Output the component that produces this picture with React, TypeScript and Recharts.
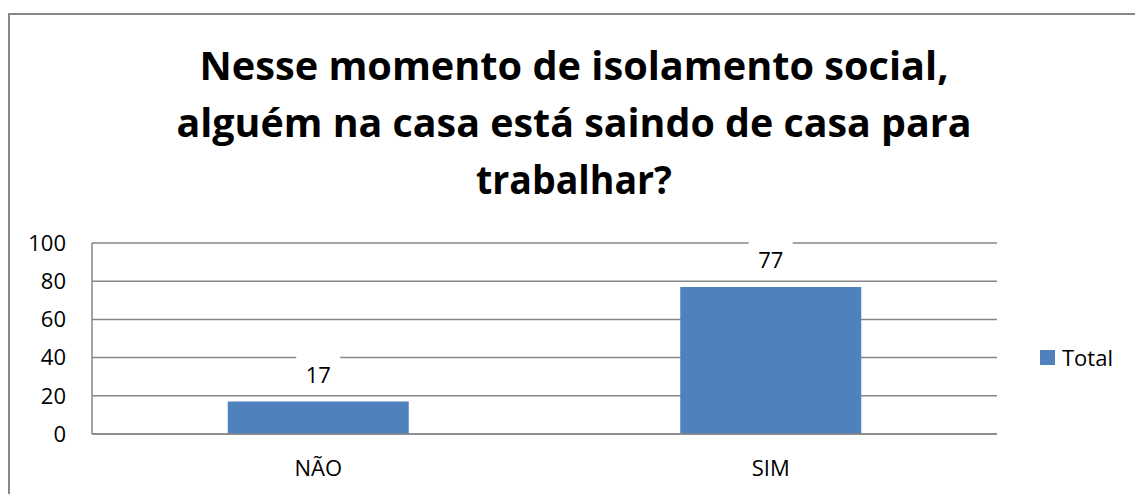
import { BarChart, Bar, XAxis, YAxis, CartesianGrid, LabelList } from 'recharts';

const categories = ['NÃO', 'SIM'];
const totals = [17, 77];
const yTicks = [0, 20, 40, 60, 80, 100];
const titleLines = [
  'Nesse momento de isolamento social,',
  'alguém na casa está saindo de casa para',
  'trabalhar?',
];
const titleWidths = [749, 795, 196];

const data = categories.map((name, i) => ({ name, Total: totals[i] }));

const FONT = '"Open Sans", Lato, sans-serif';
const BLUE = '#4F81BD';
const GRID = '#878787';

function ValueLabel(props: any) {
  const { x, y, width, value } = props;
  const cx = x + width / 2;
  return (
    <g>
      <rect x={cx - 22} y={y - 47} width={44} height={39} fill="#fff" />
      <text x={cx} y={y - 19} textAnchor="middle" fontSize={22} fontFamily={FONT} fill="#000">
        {value}
      </text>
    </g>
  );
}

export default function App() {
  return (
    <div style={{ position: 'absolute', left: 0, top: 0, width: 1135, height: 494, background: '#fff', overflow: 'hidden' }}>
      <div
        style={{
          position: 'absolute',
          left: 8,
          top: 13,
          width: 1160,
          height: 520,
          border: `2px solid ${GRID}`,
        }}
      />
      <svg width={1135} height={230} style={{ position: 'absolute', left: 0, top: 0 }}>
        {titleLines.map((line, i) => (
          <text
            key={i}
            x={574}
            y={80 + i * 57}
            textAnchor="middle"
            fontFamily={FONT}
            fontWeight={700}
            fontSize={39}
            textLength={titleWidths[i]}
            lengthAdjust="spacingAndGlyphs"
            fill="#000"
          >
            {line}
          </text>
        ))}
      </svg>
      <div style={{ position: 'absolute', left: 0, top: 0 }}>
        <BarChart
          width={1135}
          height={494}
          data={data}
          margin={{ top: 243, right: 138, bottom: 0, left: 0 }}
          barCategoryGap="30%"
        >
          <CartesianGrid vertical={false} stroke={GRID} strokeWidth={1.5} />
          <XAxis
            dataKey="name"
            height={60}
            axisLine={{ stroke: GRID, strokeWidth: 1.5 }}
            tickLine={false}
            tickSize={0}
            tickMargin={26}
            tick={{ fontSize: 22, fontFamily: FONT, fill: '#000' }}
          />
          <YAxis
            width={92}
            domain={[0, 100]}
            ticks={yTicks}
            axisLine={{ stroke: GRID, strokeWidth: 1.5 }}
            tickLine={false}
            tickSize={0}
            tickMargin={26}
            tick={{ fontSize: 22, fontFamily: FONT, fill: '#000' }}
          />
          <Bar dataKey="Total" fill={BLUE} isAnimationActive={false}>
            <LabelList dataKey="Total" content={<ValueLabel />} />
          </Bar>
        </BarChart>
      </div>
      <div
        style={{
          position: 'absolute',
          left: 1040,
          top: 342,
          display: 'flex',
          alignItems: 'center',
          fontFamily: FONT,
          fontSize: 22,
          color: '#000',
        }}
      >
        <span style={{ display: 'inline-block', width: 15, height: 15, background: BLUE, marginRight: 7 }} />
        <span>Total</span>
      </div>
    </div>
  );
}
